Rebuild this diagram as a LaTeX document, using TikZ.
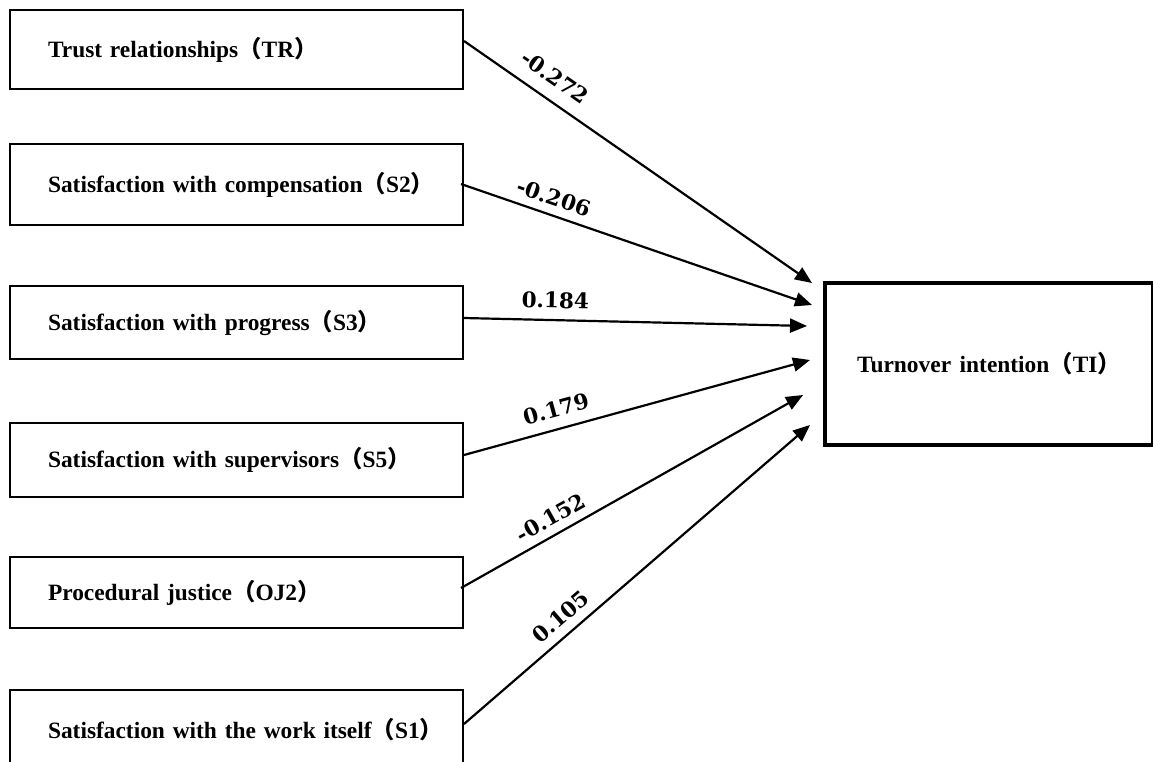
\documentclass[tikz,border=0pt]{standalone}
\usepackage{fontspec}
\setmainfont{Liberation Serif}
\newfontfamily\numfont{DejaVu Serif}
\newfontfamily\cjkfont{Noto Sans CJK SC}
\newcommand\fwp[1]{{\cjkfont （}#1{\cjkfont ）}}
\DeclareRobustCommand\boxfont{\fontsize{23.4}{28}\selectfont\bfseries\spaceskip=8.6pt\relax}
\usetikzlibrary{arrows.meta}
\tikzset{
  src/.style={draw, line width=2pt, rectangle, anchor=north west, inner xsep=0pt, inner ysep=0pt,
    text width=453pt, align=left, font=\boxfont},
  tgt/.style={draw, line width=4pt, rectangle, anchor=north west, inner sep=0pt,
    minimum width=328pt, minimum height=162pt, font=\boxfont},
  conn/.style={line width=2.2pt, -{Triangle[length=17pt,width=14pt]}},
  lab/.style={sloped, inner sep=0pt, font=\numfont\fontsize{21.5}{25}\selectfont\bfseries}
}
\begin{document}
\begin{tikzpicture}[x=1pt,y=-1pt]
\useasboundingbox (0,0) rectangle (1153,761);
\clip (0,0) rectangle (1153,761);
\node[src, minimum height=79pt] (tr) at (9,9) {\hspace*{38pt}Trust relationships\fwp{TR}};
\node[src, minimum height=81pt] (s2) at (9,143) {\hspace*{38pt}Satisfaction with compensation\fwp{S2}};
\node[src, minimum height=73pt] (s3) at (9,285) {\hspace*{38pt}Satisfaction with progress\fwp{S3}};
\node[src, minimum height=74pt] (s5) at (9,422) {\hspace*{38pt}Satisfaction with supervisors\fwp{S5}};
\node[src, minimum height=71pt] (oj2) at (9,556) {\hspace*{38pt}Procedural justice\fwp{OJ2}};
\node[src, minimum height=80pt] (s1) at (9,689) {\hspace*{38pt}Satisfaction with the work itself\fwp{S1}};
\node[tgt] (ti) at (823,281) {Turnover intention\fwp{TI}};
\coordinate (t1) at (812,283);
\coordinate (t2) at (812,305);
\coordinate (t3) at (807,326);
\coordinate (t4) at (810,360);
\coordinate (t5) at (803,395);
\coordinate (t6) at (810,425);
\draw[conn] ([yshift=8.5pt]tr.east) -- node[lab, pos=0.225, above=13pt] {-0.272} (t1);
\draw[conn] ([yshift=0.5pt,xshift=-3pt]s2.east) -- node[lab, pos=0.248, above=8.5pt] {-0.206} (t2);
\draw[conn] ([yshift=4.5pt]s3.east) -- node[lab, pos=0.265, above=10.5pt] {0.184} (t3);
\draw[conn] ([yshift=5pt]s5.east) -- node[lab, pos=0.281, above=10.5pt] {0.179} (t4);
\draw[conn] ([yshift=4.5pt,xshift=-3pt]oj2.east) -- node[lab, pos=0.287, above=8pt] {-0.152} (t5);
\draw[conn] ([yshift=6pt]s1.east) -- node[lab, pos=0.313, above=9pt] {0.105} (t6);
\end{tikzpicture}
\end{document}
